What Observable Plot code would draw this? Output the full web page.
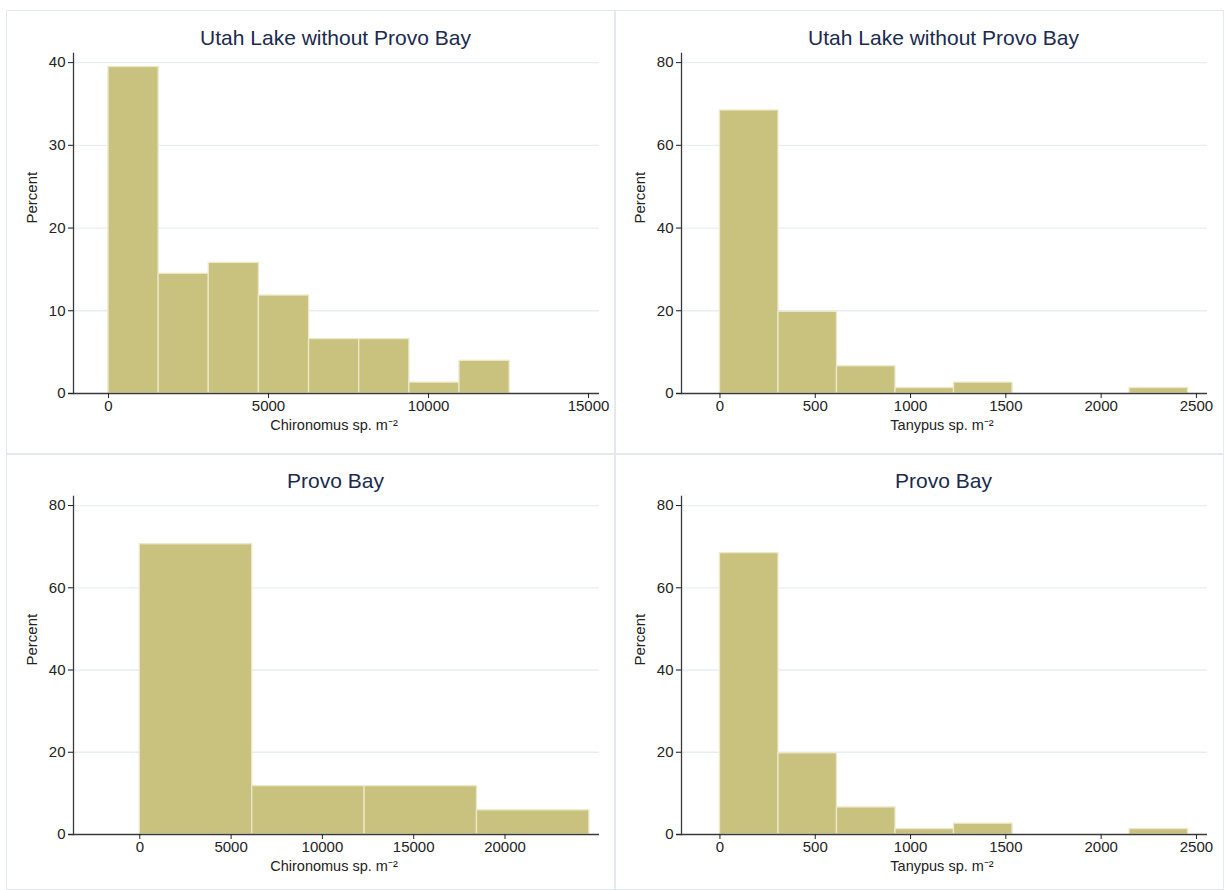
<!DOCTYPE html>
<html><head><meta charset="utf-8">
<script src="https://cdn.jsdelivr.net/npm/d3@7"></script>
<script src="https://cdn.jsdelivr.net/npm/@observablehq/plot@0.6"></script>
<style>
body{margin:0;background:#fff;font-family:"Liberation Sans",Arial,sans-serif;}
#wrap{position:relative;width:1225px;height:890px;overflow:hidden;}
.panel{position:absolute;box-sizing:border-box;border:1.5px solid #e4e9ef;}
.plot{position:absolute;}
.title{position:absolute;font-size:21px;color:#1b2a4e;white-space:nowrap;transform:translate(-50%,-50%);}
</style></head><body><div id="wrap"></div>
<script>
// Histogram data (percent of samples per bin)
const chironomusUtahEdges = [0, 1567, 3134, 4701, 6268, 7835, 9402, 10969, 12536];
const chironomusUtahPct   = [39.47, 14.47, 15.79, 11.84, 6.58, 6.58, 1.32, 3.95];

const tanypusUtahEdges = [0, 307, 614, 921, 1228, 1535, 1842, 2149, 2456];
const tanypusUtahPct   = [68.42, 19.74, 6.58, 1.32, 2.63, 0, 0, 1.32];

const chironomusProvoEdges = [0, 6155, 12310, 18465, 24620];
const chironomusProvoPct   = [70.59, 11.76, 11.76, 5.88];

const tanypusProvoEdges = [0, 307, 614, 921, 1228, 1535, 1842, 2149, 2456];
const tanypusProvoPct   = [68.42, 19.74, 6.58, 1.32, 2.63, 0, 0, 1.32];

const titles = ["Utah Lake without Provo Bay", "Utah Lake without Provo Bay", "Provo Bay", "Provo Bay"];
const xLabels = ["Chironomus sp. m\u207B\u00B2", "Tanypus sp. m\u207B\u00B2", "Chironomus sp. m\u207B\u00B2", "Tanypus sp. m\u207B\u00B2"];
const yLabel = "Percent";

const chironomusUtahTicks = [0, 5000, 10000, 15000];
const tanypusTicks = [0, 500, 1000, 1500, 2000, 2500];
const chironomusProvoTicks = [0, 5000, 10000, 15000, 20000];
const yTicks40 = [0, 10, 20, 30, 40];
const yTicks80 = [0, 20, 40, 60, 80];

const wrap = document.getElementById("wrap");
const FONT = "'Liberation Sans', Arial, Helvetica, sans-serif";

const panels = [
  {left: 6,   top: 10,  w: 608, h: 443, axisY: 383, edges: chironomusUtahEdges, pct: chironomusUtahPct,
   xDomain: [-1250, 15344], xTicks: chironomusUtahTicks, yDomain: [0, 41.1], yTicks: yTicks40},
  {left: 614, top: 10,  w: 608, h: 443, axisY: 383, edges: tanypusUtahEdges, pct: tanypusUtahPct,
   xDomain: [-228, 2558], xTicks: tanypusTicks, yDomain: [0, 82.2], yTicks: yTicks80},
  {left: 6,   top: 453, w: 608, h: 435, axisY: 381, edges: chironomusProvoEdges, pct: chironomusProvoPct,
   xDomain: [-3905, 25175], xTicks: chironomusProvoTicks, yDomain: [0, 82.2], yTicks: yTicks80},
  {left: 614, top: 453, w: 608, h: 435, axisY: 381, edges: tanypusProvoEdges, pct: tanypusProvoPct,
   xDomain: [-228, 2558], xTicks: tanypusTicks, yDomain: [0, 82.2], yTicks: yTicks80}
];

panels.forEach((p, i) => {
  const box = document.createElement("div");
  box.className = "panel";
  Object.assign(box.style, {left: p.left + "px", top: p.top + "px", width: (p.w + 1.5) + "px", height: (p.h + 1.5) + "px"});
  wrap.appendChild(box);

  const bins = p.pct.map((v, k) => ({x1: p.edges[k], x2: p.edges[k + 1], pct: v})).filter(d => d.pct > 0);
  const mL = 62, mR = 15, mT = 43, mB = p.h - p.axisY;

  const chart = Plot.plot({
    width: p.w, height: p.h,
    marginLeft: mL, marginRight: mR, marginTop: mT, marginBottom: mB,
    x: {domain: p.xDomain},
    y: {domain: p.yDomain},
    style: {fontFamily: FONT, fontSize: "15px", color: "#222", background: "transparent", overflow: "visible"},
    marks: [
      Plot.gridY(p.yTicks.filter(t => t > 0), {stroke: "#e8edf2", strokeOpacity: 1, strokeWidth: 1.3}),
      Plot.rectY(bins, {x1: "x1", x2: "x2", y: "pct", fill: "#c9c27f", stroke: "#ece8ca", strokeWidth: 1.3}),
      Plot.ruleY([0], {stroke: "#3a3a3a", strokeWidth: 1.3}),
      Plot.frame({anchor: "left", dx: 5, stroke: "#3a3a3a", strokeWidth: 1.3}),
      Plot.axisY({ticks: p.yTicks, tickSize: 5, tickPadding: 3, dx: 5, label: null, tickFormat: d => String(d), fontSize: 15}),
      Plot.axisX({ticks: p.xTicks, tickSize: 5, tickPadding: 2, label: null, tickFormat: d => String(d), fontSize: 15}),
      Plot.text([xLabels[i]], {frameAnchor: "bottom", dy: 36, fontSize: 14.5, fill: "#222"}),
      Plot.text([yLabel], {frameAnchor: "left", dx: -36, rotate: -90, fontSize: 15, fill: "#222"})
    ]
  });
  chart.classList.add("plot");
  chart.style.left = p.left + "px";
  chart.style.top = p.top + "px";
  wrap.appendChild(chart);

  const t = document.createElement("div");
  t.className = "title";
  t.textContent = titles[i];
  t.style.left = (p.left + mL + (p.w - mL - mR) / 2 + 2) + "px";
  t.style.top = (p.top + 28) + "px";
  wrap.appendChild(t);
});
</script></body></html>
